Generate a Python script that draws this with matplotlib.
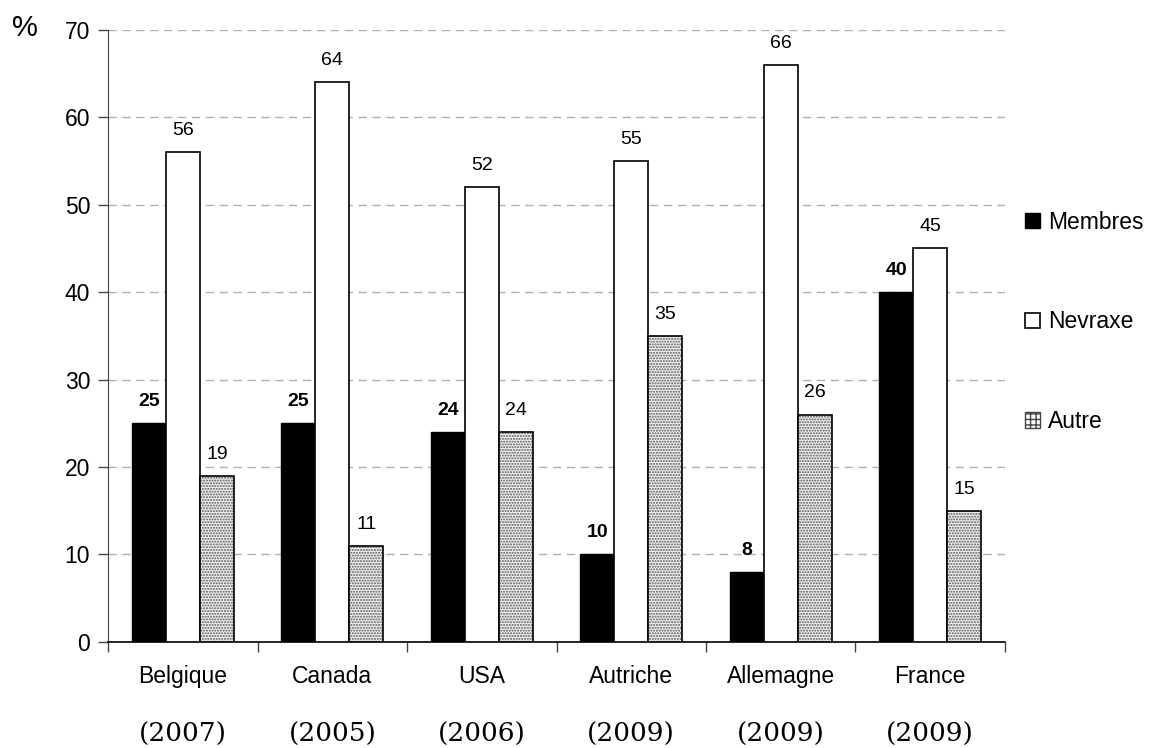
import matplotlib.pyplot as plt
import numpy as np
from matplotlib.patches import Patch
from matplotlib.ticker import FixedLocator


countries = ["Belgique", "Canada", "USA", "Autriche", "Allemagne", "France"]
years = ["(2007)", "(2005)", "(2006)", "(2009)", "(2009)", "(2009)"]
membres = [25, 25, 24, 10, 8, 40]
nevraxe = [56, 64, 52, 55, 66, 45]
autre = [19, 11, 24, 35, 26, 15]

SANS = "Liberation Sans"
SERIF = "DejaVu Serif"


def main() -> None:
    fig = plt.figure(figsize=(11.51, 7.48), dpi=100)
    ax = fig.add_axes([0.094, 0.142, 0.779, 0.818])

    x = np.arange(len(countries))
    w = 0.227

    ax.bar(x - w, membres, w, color="black", edgecolor="black", linewidth=1.0, zorder=3)
    ax.bar(x, nevraxe, w, color="white", edgecolor="black", linewidth=1.2, zorder=3)
    # dotted bars: grey dots first, black outline on top
    ax.bar(x + w, autre, w, color="#f2f2f2", edgecolor="#555555", hatch="......",
           linewidth=0, zorder=3)
    ax.bar(x + w, autre, w, fill=False, edgecolor="black", linewidth=1.2, zorder=4)

    for xi, v in zip(x, membres):
        ax.text(xi - w, v + 1.5, str(v), ha="center", va="bottom", fontsize=14,
                fontweight="bold", family=SANS)
    for xi, v in zip(x, nevraxe):
        ax.text(xi, v + 1.5, str(v), ha="center", va="bottom", fontsize=14, family=SANS)
    for xi, v in zip(x, autre):
        ax.text(xi + w, v + 1.5, str(v), ha="center", va="bottom", fontsize=14, family=SANS)

    ax.set_xlim(-0.5, len(countries) - 0.5)
    ax.set_ylim(0, 70)
    ax.set_yticks(range(0, 71, 10))
    ax.yaxis.grid(True, linestyle=(0, (6, 4)), color="#b0b0b0", linewidth=1.0, zorder=0)
    ax.set_axisbelow(True)

    ax.set_xticks(x)
    ax.set_xticklabels(countries, fontsize=16.5, family=SANS)
    ax.tick_params(axis="x", which="major", length=0, pad=17)
    ax.xaxis.set_minor_locator(FixedLocator(np.arange(-0.5, len(countries), 1.0)))
    ax.tick_params(axis="x", which="minor", length=7, width=1.0, color="#444444")
    ax.tick_params(axis="y", length=7, width=1.0, color="#444444", labelsize=16.5, pad=6)
    for lab in ax.get_yticklabels():
        lab.set_family(SANS)

    for xi, yr in zip(x, years):
        ax.text(xi, -0.152, yr, transform=ax.get_xaxis_transform(), ha="center",
                va="center", fontsize=19, family=SERIF)

    ax.spines["top"].set_visible(False)
    ax.spines["right"].set_visible(False)
    ax.spines["left"].set_color("#444444")
    ax.spines["bottom"].set_color("black")
    ax.spines["bottom"].set_linewidth(1.2)

    fig.text(0.022, 0.963, "%", fontsize=21, family=SANS, ha="center", va="center")

    handles = [
        Patch(facecolor="black", edgecolor="black"),
        Patch(facecolor="white", edgecolor="black", linewidth=1.2),
        Patch(facecolor="white", edgecolor="#444444", hatch="+++", linewidth=1.0),
    ]
    ax.legend(handles, ["Membres", "Nevraxe", "Autre"], loc="center left",
              bbox_to_anchor=(1.0, 0.523), frameon=False, handlelength=0.65,
              handleheight=0.65, handletextpad=0.35, labelspacing=3.35,
              prop={"family": SANS, "size": 16.5})

    fig.savefig("out.png", facecolor="white")
    plt.close(fig)


if __name__ == "__main__":
    main()
